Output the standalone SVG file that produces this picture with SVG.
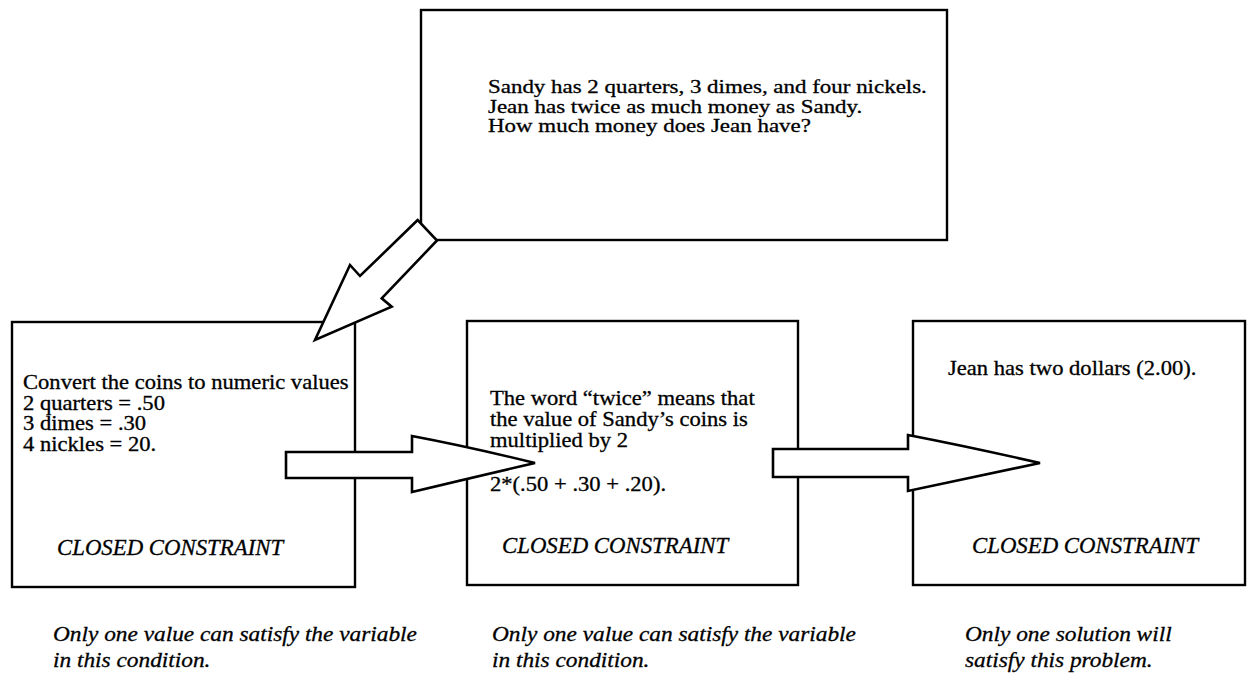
<svg xmlns="http://www.w3.org/2000/svg" width="1251" height="688" viewBox="0 0 1251 688">
<style>
.box{fill:#fff;stroke:#000;stroke-width:2.4}
.arrow{fill:#fff;stroke:#000;stroke-width:2.6;stroke-linejoin:miter}
.t{font-family:"Liberation Serif","Times New Roman",serif;font-size:20px;fill:#000;stroke:#000;stroke-width:0.3}
.ci{font-family:"Liberation Serif","Times New Roman",serif;font-size:22.8px;font-style:italic;fill:#000;stroke:#000;stroke-width:0.3}
.bi{font-family:"Liberation Serif","Times New Roman",serif;font-size:21.5px;font-style:italic;fill:#000;stroke:#000;stroke-width:0.3}
</style>
<rect width="1251" height="688" fill="#fff"/>
<g id="problem">
<rect class="box" x="421" y="10" width="526" height="230"/>
<text class="t" style="font-size:18.8px" transform="translate(488,93) scale(1.22,1)"><tspan x="0" y="0">Sandy has 2 quarters, 3 dimes, and four nickels.</tspan><tspan x="0" y="19.6">Jean has twice as much money as Sandy.</tspan><tspan x="0" y="39.2">How much money does Jean have?</tspan></text>
</g>
<g id="step1">
<rect class="box" x="12" y="322" width="343" height="265"/>
<text class="t" transform="translate(23,389) scale(1.13,1)"><tspan x="0" y="0">Convert the coins to numeric values</tspan><tspan x="0" y="20.7">2 quarters = .50</tspan><tspan x="0" y="41.4">3 dimes = .30</tspan><tspan x="0" y="62.1">4 nickles = 20.</tspan></text>
<text class="ci" x="57" y="555">CLOSED CONSTRAINT</text>
</g>
<g id="step2">
<rect class="box" x="467" y="321" width="331" height="264"/>
<text class="t" transform="translate(490,405) scale(1.13,1)"><tspan x="0" y="0">The word “twice” means that</tspan><tspan x="0" y="21">the value of  Sandy’s coins is</tspan><tspan x="0" y="42">multiplied by 2</tspan><tspan x="0" y="86">2*(.50 + .30 + .20).</tspan></text>
<text class="ci" x="502" y="553">CLOSED CONSTRAINT</text>
</g>
<g id="step3">
<rect class="box" x="913" y="321" width="332" height="264"/>
<text class="t" transform="translate(948,375) scale(1.13,1)">Jean has two dollars (2.00).</text>
<text class="ci" x="972" y="553">CLOSED CONSTRAINT</text>
</g>
<g id="connectors">
<path class="arrow" d="M417.7,220 L360,276 L350,265 L315,340 L391.7,306.7 L381.7,298.3 L437,240.5 Z"/>
<path class="arrow" d="M286,452 L412,452 L412,436 Q470,447 535,463 Q470,478 412,492 L412,478 L286,478 Z"/>
<path class="arrow" d="M773,449 L908,449 L908,435 Q970,447 1040,463 Q970,478 908,491 L908,477 L773,477 Z"/>
</g>
<g id="note1">
<text class="bi" transform="translate(53,641) scale(1.085,1)"><tspan x="0" y="0">Only one value can satisfy the variable</tspan><tspan x="0" y="26">in this condition.</tspan></text>
</g>
<g id="note2">
<text class="bi" transform="translate(492,641) scale(1.085,1)"><tspan x="0" y="0">Only one value can satisfy the variable</tspan><tspan x="0" y="26">in this condition.</tspan></text>
</g>
<g id="note3">
<text class="bi" transform="translate(965,641) scale(1.085,1)"><tspan x="0" y="0">Only one solution will</tspan><tspan x="0" y="26">satisfy this problem.</tspan></text>
</g>
</svg>
